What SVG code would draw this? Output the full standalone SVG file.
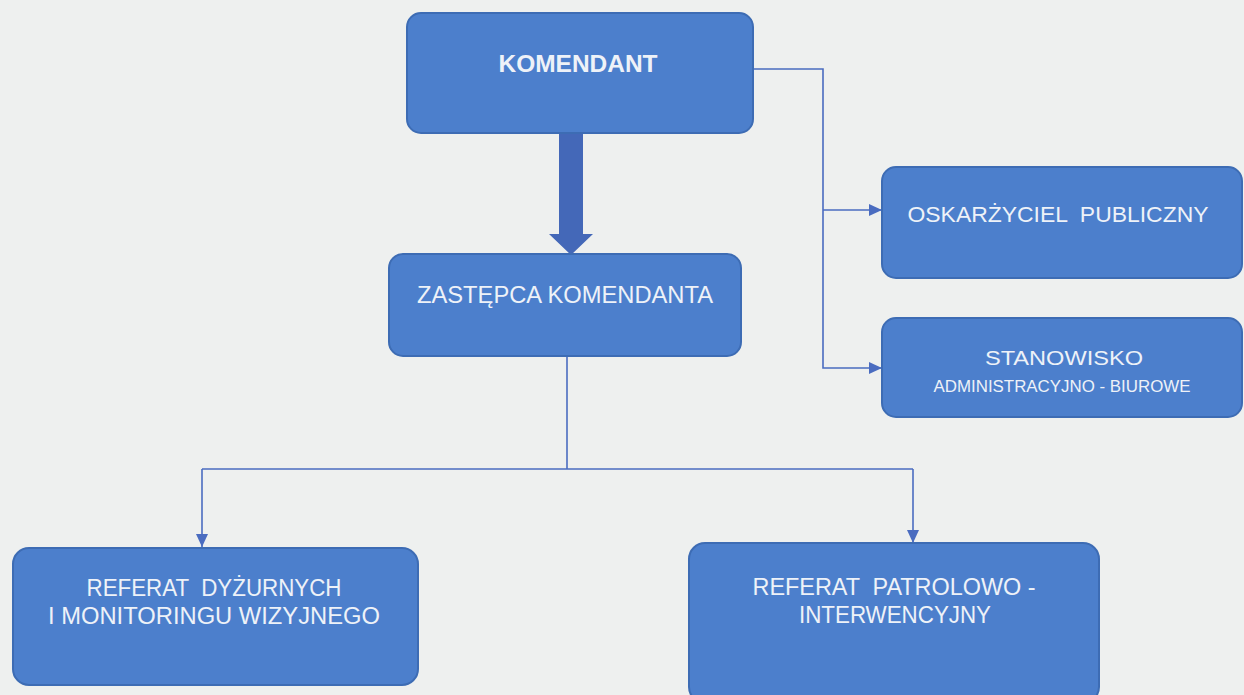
<svg xmlns="http://www.w3.org/2000/svg" width="1244" height="695" viewBox="0 0 1244 695">
<defs>
<style>
.box{fill:#4c7fcc;stroke:#3d6cb4;stroke-width:2}
.t{font-family:"Liberation Sans",Arial,sans-serif;fill:#eef2f8;text-anchor:middle}
.ln{fill:none;stroke:#4a6cc0;stroke-width:1.6}
</style>
<marker id="ah" viewBox="0 0 13 12" refX="13" refY="6" markerWidth="13" markerHeight="12" markerUnits="userSpaceOnUse" orient="auto">
<path d="M0,0 L13,6 L0,12 z" fill="#4a6cc0"/>
</marker>
</defs>
<rect width="1244" height="695" fill="#eef0ef"/>
<g id="connectors">
<polygon points="559,133 583,133 583,234 593,234 571,255 549,234 559,234" fill="#4468b8"/>
<polyline class="ln" points="753,69 823,69 823,368 882,368" marker-end="url(#ah)"/>
<line class="ln" x1="823" y1="210" x2="882" y2="210" marker-end="url(#ah)"/>
<line class="ln" x1="567" y1="356" x2="567" y2="469"/>
<polyline class="ln" points="202,469 913,469"/>
<line class="ln" x1="202" y1="469" x2="202" y2="547" marker-end="url(#ah)"/>
<line class="ln" x1="913" y1="469" x2="913" y2="543" marker-end="url(#ah)"/>
</g>
<g id="komendant">
<rect class="box" x="407" y="13" width="346" height="120" rx="14"/>
<text class="t" x="578" y="72" font-size="24" font-weight="bold" textLength="159" lengthAdjust="spacingAndGlyphs">KOMENDANT</text>
</g>
<g id="zastepca">
<rect class="box" x="389" y="254" width="352" height="102" rx="14"/>
<text class="t" x="565" y="303" font-size="23" textLength="296" lengthAdjust="spacingAndGlyphs">ZASTĘPCA KOMENDANTA</text>
</g>
<g id="oskarzyciel">
<rect class="box" x="882" y="167" width="360" height="111" rx="14"/>
<text class="t" x="1058" y="222" font-size="22" textLength="301" lengthAdjust="spacingAndGlyphs" xml:space="preserve">OSKARŻYCIEL  PUBLICZNY</text>
</g>
<g id="stanowisko">
<rect class="box" x="882" y="318" width="360" height="99" rx="14"/>
<text class="t" x="1064" y="365" font-size="21" textLength="158" lengthAdjust="spacingAndGlyphs">STANOWISKO</text>
<text class="t" x="1062" y="392" font-size="16" textLength="257" lengthAdjust="spacingAndGlyphs">ADMINISTRACYJNO - BIUROWE</text>
</g>
<g id="referat-dyzurnych">
<rect class="box" x="13" y="548" width="405" height="137" rx="16"/>
<text class="t" x="214" y="596" font-size="23" textLength="255" lengthAdjust="spacingAndGlyphs" xml:space="preserve">REFERAT  DYŻURNYCH</text>
<text class="t" x="214" y="624" font-size="23" textLength="332" lengthAdjust="spacingAndGlyphs">I MONITORINGU WIZYJNEGO</text>
</g>
<g id="referat-patrolowo">
<rect class="box" x="689" y="543" width="410" height="160" rx="16"/>
<text class="t" x="894" y="595" font-size="23" textLength="283" lengthAdjust="spacingAndGlyphs" xml:space="preserve">REFERAT  PATROLOWO -</text>
<text class="t" x="895" y="623" font-size="23" textLength="192" lengthAdjust="spacingAndGlyphs">INTERWENCYJNY</text>
</g>
</svg>
